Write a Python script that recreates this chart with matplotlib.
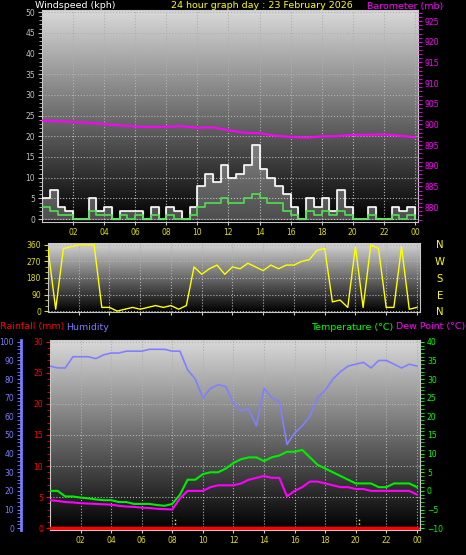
import numpy as np
import matplotlib
matplotlib.use("Agg")
import matplotlib.pyplot as plt
from matplotlib.ticker import MultipleLocator

hours_h = np.arange(0, 24.01, 1.0)
hours = np.arange(0, 24.01, 0.5)
baro = [901.0, 900.8, 900.6, 900.4, 900.1, 899.8, 899.5, 899.4, 899.4, 899.6, 899.2, 899.3, 898.6,
        898.0, 897.9, 897.3, 897.0, 896.8, 897.1, 897.2, 897.5, 897.5, 897.6, 897.3, 896.9]
gust = [5, 7, 3, 2, 0, 0, 5, 2, 3, 0, 2, 2, 2, 0, 3, 0, 3, 2, 0, 3, 8, 11, 9, 13, 10, 11, 13, 18, 12, 10,
        8, 6, 3, 0, 5, 3, 5, 2, 7, 3, 0, 0, 3, 0, 0, 3, 2, 3, 0]
avg = [3, 2, 1, 1, 0, 0, 2, 1, 1, 0, 1, 0, 1, 0, 1, 0, 1, 0, 0, 1, 3, 4, 4, 5, 4, 4, 5, 6, 5, 4,
       4, 2, 1, 0, 2, 1, 2, 1, 2, 1, 0, 0, 1, 0, 0, 1, 0, 1, 0]
wdir = [340, 10, 340, 350, 360, 360, 360, 20, 20, 0, 10, 20, 10, 20, 30, 20, 30, 10, 30, 240, 200, 230,
        250, 200, 240, 230, 260, 240, 220, 250, 230, 250, 250, 270, 280, 330, 340, 50, 60, 20, 350, 20,
        360, 340, 20, 20, 350, 10, 20]
hum = [87, 86, 86, 92, 92, 92, 91, 93, 94, 94, 95, 95, 95, 96, 96, 96, 95, 95, 85, 80, 70, 75, 77, 76,
       67, 63, 64, 55, 75, 70, 68, 45, 51, 55, 60, 70, 74, 80, 84, 87, 88, 89, 86, 90, 90, 88, 86, 88, 87]
temp = [0, 0, -1.5, -1.5, -1.8, -2, -2.3, -2.5, -2.5, -3, -3, -3.5, -3.5, -3.5, -3.8, -4, -3.5, -1, 3, 3,
        4.5, 5, 5, 6, 7.5, 8.5, 9, 9, 8, 9, 9.5, 10.5, 10.5, 11, 9, 7, 6, 5, 4, 3, 2, 2, 2, 1, 1, 2, 2, 2, 1]
dew = [-2.5, -2.7, -3, -3.1, -3.3, -3.4, -3.5, -3.6, -3.7, -4, -4.2, -4.3, -4.5, -4.6, -4.8, -4.9, -5, -2,
       0, 0, 0, 1, 1.5, 1.5, 1.5, 2, 3, 3.5, 4, 3.5, 3.5, -1.5, 0, 1, 2.5, 2.5, 2, 1.5, 1, 1, 0.5, 0.5,
       0, 0, 0, 0, 0, 0, -1]
rain = [0] * 49
xlabels = ["02", "04", "06", "08", "10", "12", "14", "16", "18", "20", "22", "00"]

W, H = 466, 555
fig = plt.figure(figsize=(W / 100, H / 100), dpi=100, facecolor="black")

def mkax(l, t, r, b):
    return fig.add_axes([l / W, 1 - b / H, (r - l) / W, (b - t) / H])

grad = np.linspace(0.85, 0.0, 256).reshape(-1, 1)
FS = 6.8
TS = 5.5

def style(ax, ycol):
    ax.set_facecolor("black")
    ax.imshow(grad, cmap="gray", vmin=0, vmax=1, aspect="auto", extent=[0, 1, 0, 1],
              transform=ax.transAxes, zorder=0)
    ax.grid(True, color="#b0b0b0", linestyle=":", linewidth=0.8, zorder=1)
    ax.set_xlim(0, 24.2)
    ax.set_xticks(np.arange(2, 24.1, 2))
    for s in ax.spines.values():
        s.set_color("#c8c8c8")
    ax.tick_params(colors=ycol, labelsize=TS, length=3, pad=2)
    ax.tick_params(axis="x", colors="#c8c8c8", labelcolor="#e0e000", length=2)

# Panel 1
ax1 = mkax(42, 10, 418, 222)
style(ax1, "#c0c0c0")
ax1.set_xticklabels(xlabels)
ax1.set_ylim(-0.7, 50.5)
ax1.yaxis.set_major_locator(MultipleLocator(5))
ax1.yaxis.set_minor_locator(MultipleLocator(1))
ax1.tick_params(axis="y", which="both", colors="#c0c0c0")
ax1.step(hours, gust, where="post", color="white", lw=1.2, zorder=3)
ax1.fill_between(hours, gust, step="post", color="#dddddd", alpha=0.35, zorder=2)
ax1.step(hours, avg, where="post", color="#50e050", lw=1.2, zorder=4)
ax1b = ax1.twinx()
ax1b.set_ylim(876.4, 927.7)
ax1b.plot(hours_h, baro, color="#ff00ff", lw=1.5)
ax1b.set_yticks(np.arange(880, 926, 5))
ax1b.yaxis.set_minor_locator(MultipleLocator(1))
ax1b.tick_params(axis="y", which="both", colors="#ff00ff", labelsize=TS, length=3, pad=2)
for s in ax1b.spines.values():
    s.set_visible(False)
fig.text(35 / W, 1 - 6 / H, "Windspeed (kph)", color="white", fontsize=FS, va="center")
fig.text(262 / W, 1 - 6 / H, "24 hour graph day : 23 February 2026", color="#ffff00", fontsize=FS,
         va="center", ha="center")
fig.text(443 / W, 1 - 6 / H, "Barometer (mb)", color="#ff00ff", fontsize=FS, va="center", ha="right")

# Panel 2
ax2 = mkax(48, 243, 420, 312)
style(ax2, "#e0e000")
ax2.set_xticklabels([])
ax2.set_ylim(-5, 370)
ax2.set_yticks([0, 90, 180, 270, 360])
ax2.yaxis.set_minor_locator(MultipleLocator(30))
ax2.tick_params(axis="y", which="both", colors="#e0e000")
ax2.plot(hours, wdir, color="#ffff00", lw=1.0, zorder=3)
for lab, y in zip("NWSEN", [245, 262, 279, 296, 312]):
    fig.text(440 / W, 1 - y / H, lab, color="#ffff00", fontsize=FS + 0.5, va="center", ha="center")

# Panel 3
ax3 = mkax(50, 340, 420, 530)
style(ax3, "red")
ax3.set_xticklabels(xlabels)
ax3.set_ylim(-0.3, 30.3)
ax3.set_yticks(np.arange(0, 31, 5))
ax3.yaxis.set_minor_locator(MultipleLocator(1))
ax3.tick_params(axis="y", which="both", colors="red")
ax3.spines["left"].set_color("#c8c8c8")
ax3.plot(hours, rain, color="red", lw=2.5, zorder=5)
for xv in [8.2, 20.2]:
    ax3.plot([xv, xv], [0, 1.5], color="#ffff00", lw=1, linestyle=":", zorder=4)
axh = ax3.twinx()
axh.yaxis.set_label_position("left")
axh.yaxis.tick_left()
axh.spines["left"].set_position(("outward", 21))
axh.spines["left"].set_color("#7b7bff")
axh.spines["left"].set_linewidth(2)
for k in ["right", "top", "bottom"]:
    axh.spines[k].set_visible(False)
axh.set_ylim(-1, 101)
axh.set_yticks(np.arange(0, 101, 10))
axh.yaxis.set_minor_locator(MultipleLocator(2))
axh.tick_params(axis="y", which="both", colors="#7b7bff", labelsize=TS, length=3, pad=2)
axh.plot(hours, hum, color="#8080ff", lw=1.2, zorder=3)
axt = ax3.twinx()
axt.set_ylim(-10.5, 40.5)
axt.set_yticks(np.arange(-10, 41, 5))
axt.yaxis.set_minor_locator(MultipleLocator(1))
axt.tick_params(axis="y", which="both", colors="#00ff00", labelsize=TS, length=3, pad=2)
for k in ["left", "top", "bottom"]:
    axt.spines[k].set_visible(False)
axt.spines["right"].set_color("#c8c8c8")
axt.plot(hours, temp, color="#00ee00", lw=1.5, zorder=4)
axt.plot(hours, dew, color="#ff00ff", lw=1.5, zorder=4)
fig.text(0, 1 - 327 / H, "Rainfall (mm)", color="red", fontsize=FS, va="center")
fig.text(66 / W, 1 - 327 / H, "Humidity", color="#7b7bff", fontsize=FS, va="center")
fig.text(393 / W, 1 - 327 / H, "Temperature (°C)", color="#00ff00", fontsize=FS, va="center", ha="right")
fig.text(465 / W, 1 - 327 / H, "Dew Point (°C)", color="#ff00ff", fontsize=FS, va="center", ha="right")

fig.savefig("out.png", dpi=100, facecolor="black")
